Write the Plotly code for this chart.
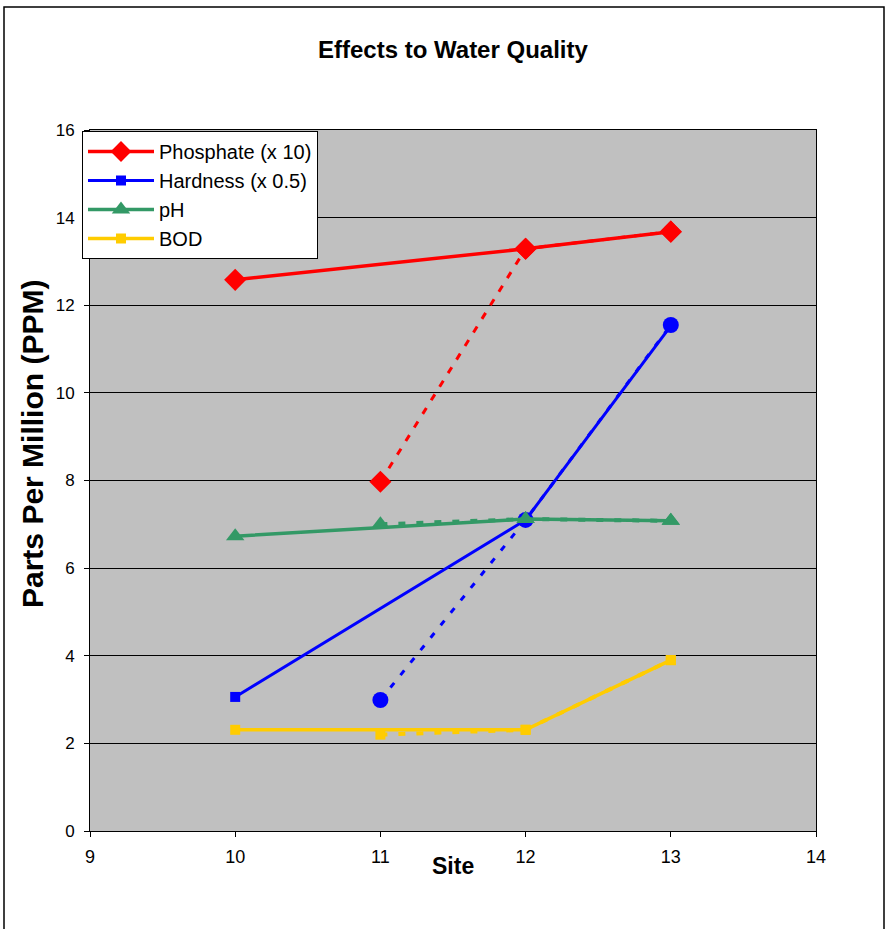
import plotly.graph_objects as go

sites = [10, 11, 12, 13]
phosphate = [12.58, None, 13.29, 13.68]
phosphate_alt = [None, 7.97, 13.29, 13.68]
hardness = [3.06, None, 7.1, 11.53]
hardness_alt = [None, 2.99, 7.1, 11.55]
ph = [6.73, None, 7.12, 7.08]
ph_alt = [None, 7.0, 7.12, 7.08]
bod = [2.31, None, 2.31, 3.9]
bod_alt = [None, 2.2, 2.31, 3.9]

RED = "#FF0000"
BLUE = "#0000FF"
GREEN = "#339966"
YELLOW = "#FFCC00"
FONT = "Liberation Sans, Arial, sans-serif"

fig = go.Figure()

# dashed (alternate) series first, not in legend
fig.add_trace(go.Scatter(x=sites, y=phosphate_alt, mode="lines+markers", showlegend=False,
                         line=dict(color=RED, width=3, dash="7px,9px"),
                         marker=dict(symbol="diamond", size=17, color=RED)))
fig.add_trace(go.Scatter(x=sites, y=hardness_alt, mode="lines+markers", showlegend=False,
                         line=dict(color=BLUE, width=3, dash="6px,10px"),
                         marker=dict(symbol="circle", size=16, color=BLUE)))
fig.add_trace(go.Scatter(x=sites, y=ph_alt, mode="lines+markers", showlegend=False,
                         line=dict(color=GREEN, width=4, dash="7px,11px"),
                         marker=dict(symbol="triangle-up", size=16, color=GREEN)))
fig.add_trace(go.Scatter(x=sites, y=bod_alt, mode="lines+markers", showlegend=False,
                         line=dict(color=YELLOW, width=4, dash="7px,11px"),
                         marker=dict(symbol="square", size=10, color=YELLOW)))

# solid series
fig.add_trace(go.Scatter(x=sites, y=phosphate, mode="lines+markers", name="Phosphate (x 10)",
                         connectgaps=True, line=dict(color=RED, width=3.5),
                         marker=dict(symbol="diamond", size=17, color=RED)))
fig.add_trace(go.Scatter(x=sites, y=hardness, mode="lines+markers", name="Hardness (x 0.5)",
                         connectgaps=True, line=dict(color=BLUE, width=3),
                         marker=dict(symbol="square", size=10, color=BLUE)))
fig.add_trace(go.Scatter(x=sites, y=ph, mode="lines+markers", name="pH",
                         connectgaps=True, line=dict(color=GREEN, width=3.5),
                         marker=dict(symbol="triangle-up", size=16, color=GREEN)))
fig.add_trace(go.Scatter(x=sites, y=bod, mode="lines+markers", name="BOD",
                         connectgaps=True, line=dict(color=YELLOW, width=3.5),
                         marker=dict(symbol="square", size=10, color=YELLOW)))

L, R, T, B = 90, 72, 130, 98
W, H = 888, 929
pw, ph_ = W - L - R, H - T - B

def px_x(p):
    return (p - L) / pw

def px_y(p):
    return (H - B - p) / ph_

fig.update_layout(
    width=W, height=H,
    margin=dict(l=L, r=R, t=T, b=B, autoexpand=False),
    paper_bgcolor="white",
    plot_bgcolor="#C0C0C0",
    font=dict(family=FONT, color="black", size=16),
    showlegend=True,
    legend=dict(x=px_x(82), y=px_y(131), xanchor="left", yanchor="top",
                bgcolor="white", bordercolor="black", borderwidth=1,
                font=dict(size=20, family=FONT), tracegroupgap=0,
                itemwidth=66),
    xaxis=dict(range=[9, 14], dtick=1, tick0=9, showgrid=False, zeroline=False,
               ticks="outside", ticklen=5, tickcolor="black", linecolor="black",
               linewidth=1, mirror=True, showline=True,
               tickfont=dict(size=18, family=FONT), ticklabelstandoff=4),
    yaxis=dict(range=[0, 16], dtick=2, tick0=0, showgrid=True, gridcolor="black",
               gridwidth=1, zeroline=False, ticks="outside", ticklen=5,
               tickcolor="black", linecolor="black", linewidth=1, mirror=True,
               showline=True, tickfont=dict(size=17, family=FONT),
               ticklabelstandoff=6),
    annotations=[
        dict(text="<b>Effects to Water Quality</b>", xref="paper", yref="paper",
             x=px_x(453), y=px_y(50), xanchor="center", yanchor="middle",
             showarrow=False, font=dict(size=24, family=FONT)),
        dict(text="<b>Site</b>", xref="paper", yref="paper",
             x=px_x(453), y=px_y(866), xanchor="center", yanchor="middle",
             showarrow=False, font=dict(size=23, family=FONT)),
        dict(text="<b>Parts Per Million (PPM)</b>", xref="paper", yref="paper",
             x=px_x(32), y=px_y(444), xanchor="center", yanchor="middle",
             textangle=-90, showarrow=False, font=dict(size=30, family=FONT)),
    ],
    shapes=[
        dict(type="rect", xref="paper", yref="paper",
             x0=px_x(4), x1=px_x(884), y0=px_y(940), y1=px_y(7),
             line=dict(color="black", width=1.5), fillcolor="rgba(0,0,0,0)",
             layer="below"),
    ],
)

fig.write_html("out.html", config={"displayModeBar": False},
               post_script="document.body.style.margin='0px';document.body.style.overflow='hidden';")
